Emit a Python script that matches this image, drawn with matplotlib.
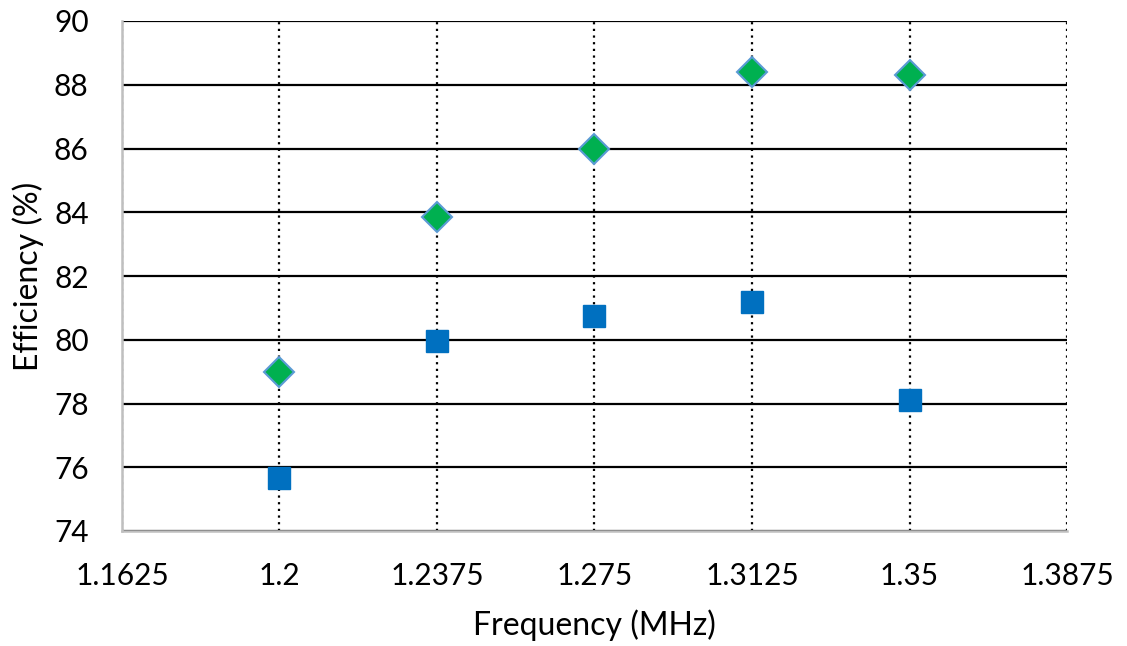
import matplotlib.pyplot as plt

# efficiency vs frequency, two series
freq = [1.2, 1.2375, 1.275, 1.3125, 1.35]
eff_green = [79.0, 83.85, 86.0, 88.4, 88.3]
eff_blue = [75.65, 79.95, 80.75, 81.2, 78.1]
xticks = [1.1625, 1.2, 1.2375, 1.275, 1.3125, 1.35, 1.3875]
xtick_labels = ["1.1625", "1.2", "1.2375", "1.275", "1.3125", "1.35", "1.3875"]
yticks = [74, 76, 78, 80, 82, 84, 86, 88, 90]

plt.rcParams['font.family'] = ['Lato', 'DejaVu Sans']

fig = plt.figure(figsize=(11.27, 6.46), dpi=100)
ax = fig.add_axes([122 / 1127, 1 - 531 / 646, (1067 - 122) / 1127, (531 - 21) / 646])

ax.set_xlim(1.1625, 1.3875)
ax.set_ylim(74, 90)
ax.set_xticks(xticks)
ax.set_xticklabels(xtick_labels)
ax.set_yticks(yticks)

# horizontal solid grid, vertical dotted grid
ax.grid(axis='y', color='black', linestyle='-', linewidth=1.6, zorder=1)
ax.grid(axis='x', color='black', linestyle=(0, (1, 2)), linewidth=1.6, zorder=1)

ax.plot(freq, eff_blue, linestyle='none', marker='s', markersize=16,
        color='#0070C0', markeredgecolor='#0070C0', zorder=3)
ax.plot(freq, eff_green, linestyle='none', marker='D', markersize=15,
        color='#00B050', markeredgecolor='#5B9BD5', markeredgewidth=1.5, zorder=3)

for side in ['top', 'right']:
    ax.spines[side].set_visible(False)
for side in ['left', 'bottom']:
    ax.spines[side].set_color('#BFBFBF')
    ax.spines[side].set_linewidth(1.8)
    ax.spines[side].set_zorder(2.5)

ax.tick_params(axis='both', length=0, labelsize=21.5)
ax.tick_params(axis='x', pad=22)
ax.tick_params(axis='y', pad=24)
ax.set_xlabel("Frequency (MHz)", fontsize=23)
ax.set_ylabel("Efficiency (%)", fontsize=23)
ax.xaxis.set_label_coords(0.5, (531 - 625) / 510)
ax.xaxis.label.set_va('center')
ax.yaxis.set_label_coords((28 - 122) / 945, 0.5)
ax.yaxis.label.set_va('center')

plt.savefig("out.png", dpi=100)
